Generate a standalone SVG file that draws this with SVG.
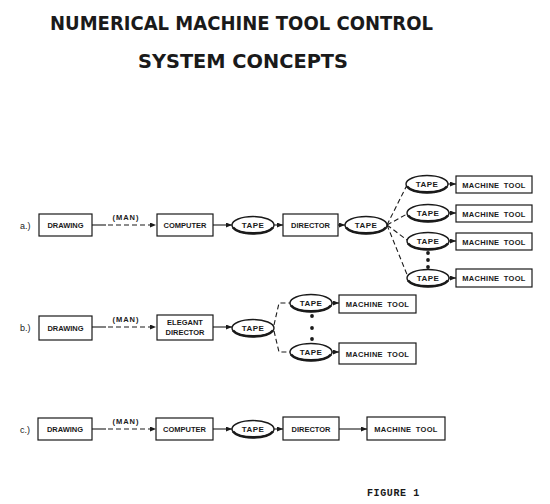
<svg xmlns="http://www.w3.org/2000/svg" width="550" height="504" viewBox="0 0 550 504">
<style>
.bx{fill:#fff;stroke:#1a1a1a;stroke-width:1.2}
.tp{fill:#fff;stroke:#1a1a1a;stroke-width:1.4}
.tb{fill:none;stroke:#1a1a1a;stroke-width:2.6}
.t{font-family:"Liberation Sans",Arial,sans-serif;font-weight:bold;font-size:7.5px;fill:#1a1a1a;text-anchor:middle}
.tt{font-family:"Liberation Sans",Arial,sans-serif;font-weight:bold;font-size:8px;fill:#1a1a1a;text-anchor:middle;letter-spacing:0.4px}
.mt{word-spacing:2px;letter-spacing:0.3px}
.lb{font-family:"Liberation Sans",Arial,sans-serif;font-size:9px;fill:#1a1a1a}
.ttl{font-family:"DejaVu Sans",sans-serif;font-weight:bold;font-size:19px;fill:#1a1a1a}
.ln{fill:none;stroke:#1a1a1a;stroke-width:1.1}
.ds{fill:none;stroke:#1a1a1a;stroke-width:1.1;stroke-dasharray:5,3}
.dot{fill:#1a1a1a}
</style>
<defs>
<marker id="ah" markerWidth="6" markerHeight="5" refX="6" refY="2.5" orient="auto" markerUnits="userSpaceOnUse">
<path d="M0,0 L6,2.5 L0,5 Z" fill="#1a1a1a"/>
</marker>
<g id="tape">
<ellipse cx="0" cy="0" rx="21" ry="8.5" class="tp"/>
<path d="M-20,2.5 A21,8.5 0 0 0 20,2.5" class="tb"/>
<text x="0" y="3" class="tt">TAPE</text>
</g>
</defs>

<text x="50" y="30" class="ttl" textLength="383" lengthAdjust="spacingAndGlyphs">NUMERICAL  MACHINE  TOOL  CONTROL</text>
<text x="138" y="68" class="ttl" textLength="210" lengthAdjust="spacingAndGlyphs">SYSTEM  CONCEPTS</text>

<text x="20" y="229" class="lb">a.)</text>
<text x="20" y="331" class="lb">b.)</text>
<text x="20" y="433" class="lb">c.)</text>

<g id="connectors">
<!-- row a -->
<path d="M92,225 H106" class="ln"/>
<path d="M108,225 H156" class="ds" marker-end="url(#ah)"/>
<path d="M213,225 H232" class="ln" marker-end="url(#ah)"/>
<path d="M274,225 H283" class="ln" marker-end="url(#ah)"/>
<path d="M338,225 H345" class="ln" marker-end="url(#ah)"/>
<path d="M387,225 L407,185" class="ds"/>
<path d="M387,225 L407,214" class="ds"/>
<path d="M387,225 L407,240" class="ds"/>
<path d="M387,225 L408,277" class="ds"/>
<path d="M447,184 H456" class="ln" marker-end="url(#ah)"/>
<path d="M447,213 H456" class="ln" marker-end="url(#ah)"/>
<path d="M447,241 H456" class="ln" marker-end="url(#ah)"/>
<path d="M447,278 H456" class="ln" marker-end="url(#ah)"/>
<!-- row b -->
<path d="M92,327 H106" class="ln"/>
<path d="M108,327 H156" class="ds" marker-end="url(#ah)"/>
<path d="M213,327 H232" class="ln" marker-end="url(#ah)"/>
<path d="M274,325 L279,303 H290" class="ds"/>
<path d="M274,331 L279,352 H290" class="ds"/>
<path d="M332,303 H339" class="ln" marker-end="url(#ah)"/>
<path d="M332,352 H339" class="ln" marker-end="url(#ah)"/>
<!-- row c -->
<path d="M92,429 H106" class="ln"/>
<path d="M108,429 H156" class="ds" marker-end="url(#ah)"/>
<path d="M213,429 H232" class="ln" marker-end="url(#ah)"/>
<path d="M274,429 H283" class="ln" marker-end="url(#ah)"/>
<path d="M339,429 H367" class="ln" marker-end="url(#ah)"/>
</g>

<text x="126" y="220" class="t" style="letter-spacing:1px">(MAN)</text>
<text x="126" y="322" class="t" style="letter-spacing:1px">(MAN)</text>
<text x="126" y="424" class="t" style="letter-spacing:1px">(MAN)</text>

<!-- row a nodes -->
<g id="a-drawing"><rect x="39" y="214" width="53" height="22" class="bx"/><text x="65.5" y="228" class="t">DRAWING</text></g>
<g id="a-computer"><rect x="157" y="214" width="56" height="22" class="bx"/><text x="185" y="228" class="t">COMPUTER</text></g>
<g id="a-tape1"><use href="#tape" x="253" y="225"/></g>
<g id="a-director"><rect x="283" y="214" width="55" height="22" class="bx"/><text x="310.5" y="228" class="t">DIRECTOR</text></g>
<g id="a-tape2"><use href="#tape" x="366" y="225"/></g>
<g id="a-tape3"><use href="#tape" x="427" y="184"/></g>
<g id="a-tape4"><use href="#tape" x="428" y="213"/></g>
<g id="a-tape5"><use href="#tape" x="428" y="241"/></g>
<g id="a-tape6"><use href="#tape" x="428" y="278"/></g>
<g id="a-mt1"><rect x="456" y="176" width="76" height="17" class="bx"/><text x="494" y="187.5" class="t mt">MACHINE TOOL</text></g>
<g id="a-mt2"><rect x="456" y="205" width="76" height="17" class="bx"/><text x="494" y="216.5" class="t mt">MACHINE TOOL</text></g>
<g id="a-mt3"><rect x="456" y="233" width="76" height="17" class="bx"/><text x="494" y="244.5" class="t mt">MACHINE TOOL</text></g>
<g id="a-mt4"><rect x="456" y="269" width="76" height="18" class="bx"/><text x="494" y="281" class="t mt">MACHINE TOOL</text></g>
<g id="a-dots"><circle cx="428" cy="253" r="1.9" class="dot"/><circle cx="428" cy="260" r="1.9" class="dot"/><circle cx="428" cy="267" r="1.9" class="dot"/></g>

<!-- row b nodes -->
<g id="b-drawing"><rect x="39" y="316" width="53" height="24" class="bx"/><text x="65.5" y="331" class="t">DRAWING</text></g>
<g id="b-elegant"><rect x="157" y="315" width="56" height="25" class="bx"/><text x="185" y="325" class="t">ELEGANT</text><text x="185" y="335" class="t">DIRECTOR</text></g>
<g id="b-tape1"><use href="#tape" x="253" y="328"/></g>
<g id="b-tape2"><use href="#tape" x="311" y="303"/></g>
<g id="b-tape3"><use href="#tape" x="311" y="352"/></g>
<g id="b-mt1"><rect x="339" y="295" width="77" height="18" class="bx"/><text x="377.5" y="307" class="t mt">MACHINE TOOL</text></g>
<g id="b-mt2"><rect x="339" y="343" width="77" height="21" class="bx"/><text x="377.5" y="356.5" class="t mt">MACHINE TOOL</text></g>
<g id="b-dots"><circle cx="312" cy="316" r="1.9" class="dot"/><circle cx="312" cy="328" r="1.9" class="dot"/><circle cx="312" cy="339" r="1.9" class="dot"/></g>

<!-- row c nodes -->
<g id="c-drawing"><rect x="38" y="418" width="54" height="22" class="bx"/><text x="65" y="432" class="t">DRAWING</text></g>
<g id="c-computer"><rect x="156" y="418" width="57" height="22" class="bx"/><text x="184.5" y="432" class="t">COMPUTER</text></g>
<g id="c-tape"><use href="#tape" x="253" y="429"/></g>
<g id="c-director"><rect x="283" y="417" width="56" height="23" class="bx"/><text x="311" y="431.5" class="t">DIRECTOR</text></g>
<g id="c-mt"><rect x="367" y="417" width="78" height="23" class="bx"/><text x="406" y="431.5" class="t mt">MACHINE TOOL</text></g>

<text x="367" y="496" style="font-family:'Liberation Mono',monospace;font-weight:bold;font-size:10px;fill:#1a1a1a;letter-spacing:0.6px">FIGURE 1</text>
</svg>
